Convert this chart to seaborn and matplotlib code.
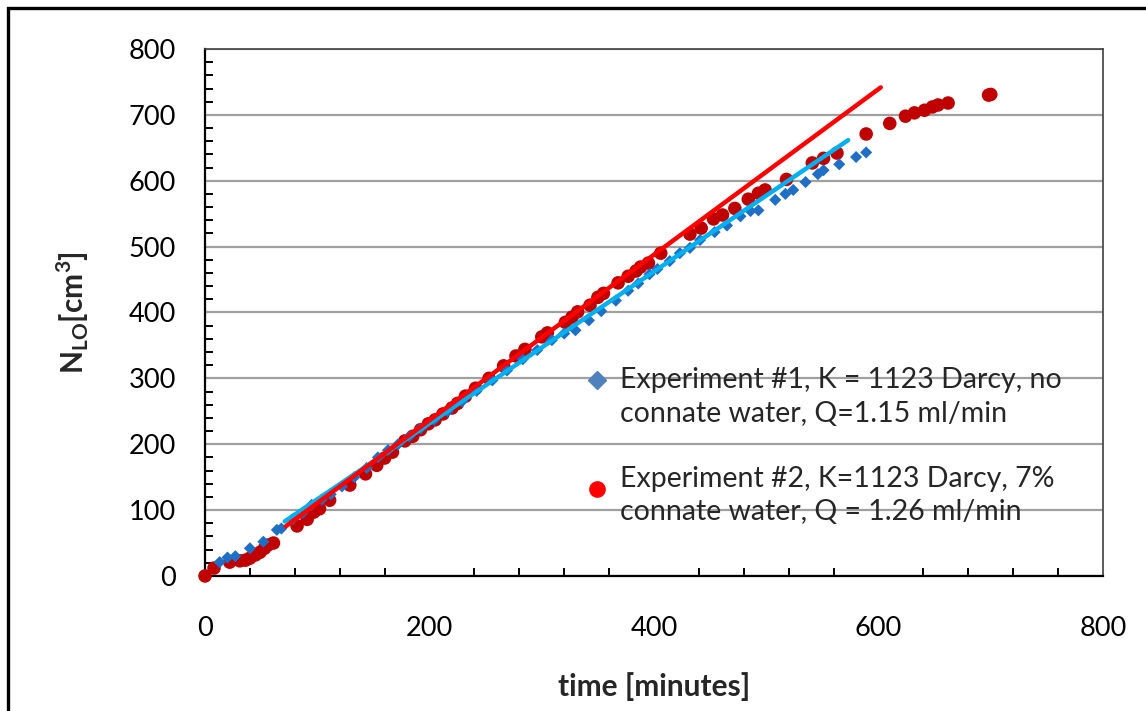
import numpy as np
import pandas as pd
import matplotlib
matplotlib.use("Agg")
import matplotlib.pyplot as plt
import seaborn as sns
from matplotlib.lines import Line2D
from matplotlib.legend_handler import HandlerLine2D
from matplotlib.patches import Rectangle
from matplotlib.ticker import MultipleLocator

# Experiment #1: no connate water
exp1_time = [13, 20, 27, 40, 52, 64, 68, 78, 87, 95, 104, 112, 122, 133, 144, 154, 163,
             172, 182, 192, 204, 216, 229, 242, 256, 269, 283, 296, 309, 320, 330, 342,
             353, 366, 377, 386, 396, 403, 414, 423, 432, 441, 454, 465, 477, 486, 493,
             508, 517, 524, 535, 546, 551, 565, 580, 589]
exp1_vol = [21, 28, 30, 42, 52, 70, 72, 86, 96, 108, 116, 124, 136, 150, 164, 180, 191,
            200, 212, 224, 237, 250, 265, 281, 297, 312, 329, 343, 358, 368, 373, 388,
            402, 418, 433, 444, 458, 466, 478, 490, 498, 510, 522, 532, 546, 554, 555,
            571, 580, 586, 598, 610, 616, 625, 636, 643]

# Experiment #2: 7% connate water
exp2_time = [0, 8, 22, 31, 36, 40, 45, 49, 53, 56, 61, 82, 91, 97, 102, 111, 129, 143,
             153, 160, 167, 178, 185, 192, 199, 205, 212, 220, 225, 232, 241, 253, 266,
             277, 285, 300, 305, 321, 327, 332, 343, 350, 355, 368, 377, 384, 388, 395,
             406, 432, 442, 453, 461, 472, 484, 493, 499, 518, 541, 551, 563, 589, 610,
             624, 632, 641, 648, 653, 662, 698, 700]
exp2_vol = [0, 12, 21, 23, 24, 27, 32, 36, 42, 47, 50, 76, 86, 97, 102, 115, 138, 155,
            168, 179, 188, 205, 212, 222, 231, 237, 246, 255, 262, 273, 285, 300, 319,
            334, 344, 363, 369, 385, 393, 401, 411, 423, 429, 445, 455, 463, 469, 475,
            490, 519, 528, 542, 548, 558, 572, 581, 586, 602, 627, 634, 642, 671, 687,
            698, 703, 707, 712, 715, 718, 730, 731]

# Linear trend lines: slope, intercept, time span
fit1_slope, fit1_intercept, fit1_span = 1.153, 1.0, [71, 573]
fit2_slope, fit2_intercept, fit2_span = 1.257, -15.0, [72, 602]

label1 = "Experiment #1, K = 1123 Darcy, no\nconnate water, Q=1.15 ml/min"
label2 = "Experiment #2, K=1123 Darcy, 7%\nconnate water, Q = 1.26 ml/min"

x_ticks = [0, 200, 400, 600, 800]
y_ticks = [0, 100, 200, 300, 400, 500, 600, 700, 800]

sns.set_theme(style="white")
plt.rcParams["font.family"] = ["Lato", "DejaVu Sans"]
plt.rcParams["mathtext.fontset"] = "custom"
plt.rcParams["mathtext.rm"] = "Lato"
plt.rcParams["mathtext.bf"] = "Lato:bold"

fig = plt.figure(figsize=(11.46, 7.11), dpi=100)
ax = fig.add_axes([0.1789, 0.1899, 0.9625 - 0.1789, 0.9311 - 0.1899])

df1 = pd.DataFrame({"time": exp1_time, "vol": exp1_vol})
df2 = pd.DataFrame({"time": exp2_time, "vol": exp2_vol})

t1 = np.array(fit1_span, dtype=float)
t2 = np.array(fit2_span, dtype=float)
fit1 = pd.DataFrame({"time": t1, "vol": fit1_slope * t1 + fit1_intercept})
fit2 = pd.DataFrame({"time": t2, "vol": fit2_slope * t2 + fit2_intercept})

sns.scatterplot(data=df1, x="time", y="vol", ax=ax, marker="D", s=38,
                color="#1F6FC5", edgecolor="none", zorder=4, clip_on=False)
sns.scatterplot(data=df2, x="time", y="vol", ax=ax, marker="o", s=95,
                color="#C00000", edgecolor="none", zorder=3, clip_on=False)
sns.lineplot(data=fit1, x="time", y="vol", ax=ax, color="#00B0F0", lw=3.2, zorder=5)
sns.lineplot(data=fit2, x="time", y="vol", ax=ax, color="#FF0000", lw=3.2, zorder=6)

ax.set_xlim(0, 800)
ax.set_ylim(0, 800)
ax.set_xticks(x_ticks)
ax.set_yticks(y_ticks)
ax.xaxis.set_minor_locator(MultipleLocator(40))
ax.yaxis.set_minor_locator(MultipleLocator(20))
ax.grid(axis="y", which="major", color="#A0A0A0", lw=1.6)
ax.set_axisbelow(True)

for side in ["left", "bottom"]:
    ax.spines[side].set_color("black")
    ax.spines[side].set_linewidth(1.6)
for side in ["top", "right"]:
    ax.spines[side].set_color("#404040")
    ax.spines[side].set_linewidth(1.2)

ax.tick_params(axis="both", which="major", direction="inout", length=12, width=1.6,
               color="black", labelsize=19.5, labelcolor="black")
ax.tick_params(axis="x", which="major", pad=23)
ax.tick_params(axis="y", which="major", pad=15)
ax.tick_params(axis="both", which="minor", direction="in", length=6, width=1.4,
               color="black", bottom=True, left=True)

ax.set_xlabel("time [minutes]", fontsize=21.5, fontweight="bold", labelpad=22)
ax.set_ylabel(r"N$_{\mathbf{LO}}$[cm$^{\mathbf{3}}$]", fontsize=21.5, fontweight="bold",
              labelpad=27)


class ShiftedHandler(HandlerLine2D):
    def __init__(self, dy=0.0, **kw):
        super().__init__(**kw)
        self.dy = dy

    def create_artists(self, legend, orig_handle, xdescent, ydescent, width, height,
                       fontsize, trans):
        return super().create_artists(legend, orig_handle, xdescent, ydescent - self.dy,
                                      width, height, fontsize, trans)


h1 = Line2D([], [], ls="none", marker="D", ms=9, color="#4F81BD")
h2 = Line2D([], [], ls="none", marker="o", ms=11, color="#FF0000")
leg = ax.legend([h1, h2], [label1, label2], loc="upper left",
                bbox_to_anchor=(0.405, 0.423), frameon=False, fontsize=20.5,
                handlelength=1.0, handletextpad=0.3, labelspacing=1.35, borderpad=0,
                handler_map={h1: ShiftedHandler(dy=25), h2: ShiftedHandler(dy=9.5)})
for txt in leg.get_texts():
    txt.set_linespacing(1.37)

# Outer chart border
fig.patches.append(Rectangle((8 / 1146, -0.2), 1.2, 1 - 8 / 711 + 0.2,
                             transform=fig.transFigure, fill=False, lw=2.4,
                             edgecolor="black", zorder=0))

fig.savefig("out.png", dpi=100)
